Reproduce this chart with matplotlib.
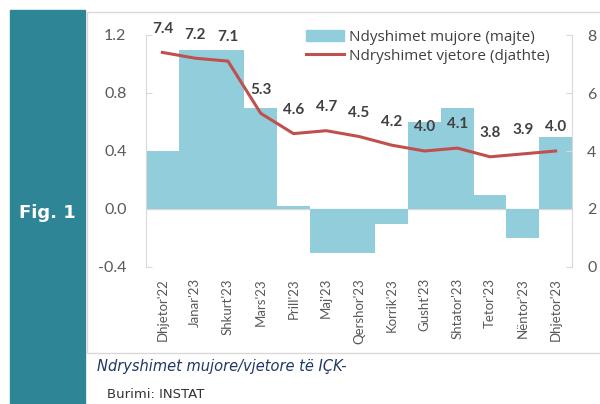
import matplotlib.pyplot as plt
from matplotlib.patches import Rectangle
from matplotlib.lines import Line2D

months = ["Dhjetor'22", "Janar'23", "Shkurt'23", "Mars'23", "Prill'23", "Maj'23",
          "Qershor'23", "Korrik'23", "Gusht'23", "Shtator'23", "Tetor'23",
          "Nëntor'23", "Dhjetor'23"]
monthly = [0.4, 1.1, 1.1, 0.7, 0.02, -0.3, -0.3, -0.1, 0.6, 0.7, 0.1, -0.2, 0.5]
annual = [7.4, 7.2, 7.1, 5.3, 4.6, 4.7, 4.5, 4.2, 4.0, 4.1, 3.8, 3.9, 4.0]
left_ticks = [-0.4, 0.0, 0.4, 0.8, 1.2]
right_ticks = [0, 2, 4, 6, 8]

bar_color = '#92CDDC'
line_color = '#C0504D'
grey = '#595959'
plt.rcParams['font.family'] = ['Lato', 'DejaVu Sans']

fig = plt.figure(figsize=(6, 4.04), dpi=100)

# teal side strip and chart frame
fig.patches.append(Rectangle((10/600, 0), 75/600, 1 - 10/404, transform=fig.transFigure,
                             color='#2E8596', zorder=0))
fig.patches.append(Rectangle((87/600, 1 - 353/404), 520/600, 341/404, transform=fig.transFigure,
                             fill=False, edgecolor='#D9D9D9', lw=1, zorder=0))
fig.text(47/600, 1 - 213/404, 'Fig. 1', color='white', fontsize=13, fontweight='bold',
         ha='center', va='center', family='DejaVu Sans')

ax = fig.add_axes([146/600, 1 - 267/404, 426/600, 232/404])
x = list(range(len(months)))
ax.bar(x, monthly, width=1.0, color=bar_color, zorder=2)
ax.set_xlim(-0.5, len(months) - 0.5)
ax.set_ylim(-0.4, 1.2)
ax.set_yticks(left_ticks)
ax.set_yticklabels([f'{v:.1f}' for v in left_ticks])
ax.axhline(0, color='#D9D9D9', lw=1, zorder=1)
for s in ['top', 'right', 'bottom']:
    ax.spines[s].set_visible(False)
ax.spines['left'].set_color('#D9D9D9')
ax.tick_params(axis='y', direction='in', length=4, color='#D9D9D9', labelcolor=grey,
               labelsize=11.5, pad=14)
ax.set_xticks(x)
ax.set_xticklabels(months, rotation=90, fontsize=9.5, color=grey)
ax.tick_params(axis='x', length=0, pad=8)
ax.patch.set_alpha(0)

ax2 = ax.twinx()
ax2.plot(x, annual, color=line_color, lw=2.2, zorder=3)
ax2.set_ylim(0, 8)
ax2.set_yticks(right_ticks)
for s in ['top', 'left', 'bottom']:
    ax2.spines[s].set_visible(False)
ax2.spines['right'].set_color('#D9D9D9')
ax2.tick_params(axis='y', direction='in', length=4, color='#D9D9D9', labelcolor=grey,
                labelsize=11.5, pad=11)
for xi, v in zip(x, annual):
    ax2.annotate(f'{v:.1f}', (xi, v), xytext=(0, 17), textcoords='offset points',
                 ha='center', va='center', fontsize=11, fontweight='bold', color='#404040')

handles = [Rectangle((0, 0), 1, 1, color=bar_color),
           Line2D([0], [0], color=line_color, lw=2.2)]
fig.legend(handles, ['Ndyshimet mujore (majte)', 'Ndryshimet vjetore (djathte)'],
           loc='upper left', bbox_to_anchor=(292/600, 1 - 16/404), frameon=False,
           handlelength=2.5, handletextpad=0.35, labelspacing=0.25,
           labelcolor='#404040', prop={'family': 'Open Sans', 'size': 11})

fig.text(97/600, 1 - 366/404, 'Ndryshimet mujore/vjetore të IÇK-', fontsize=10.5,
         style='italic', color='#1F3864', va='center', family='DejaVu Sans')
fig.text(107/600, 1 - 394/404, 'Burimi: INSTAT', fontsize=9.5, color='#333333', va='center',
         family='DejaVu Sans')

fig.savefig('out.png', dpi=100)
